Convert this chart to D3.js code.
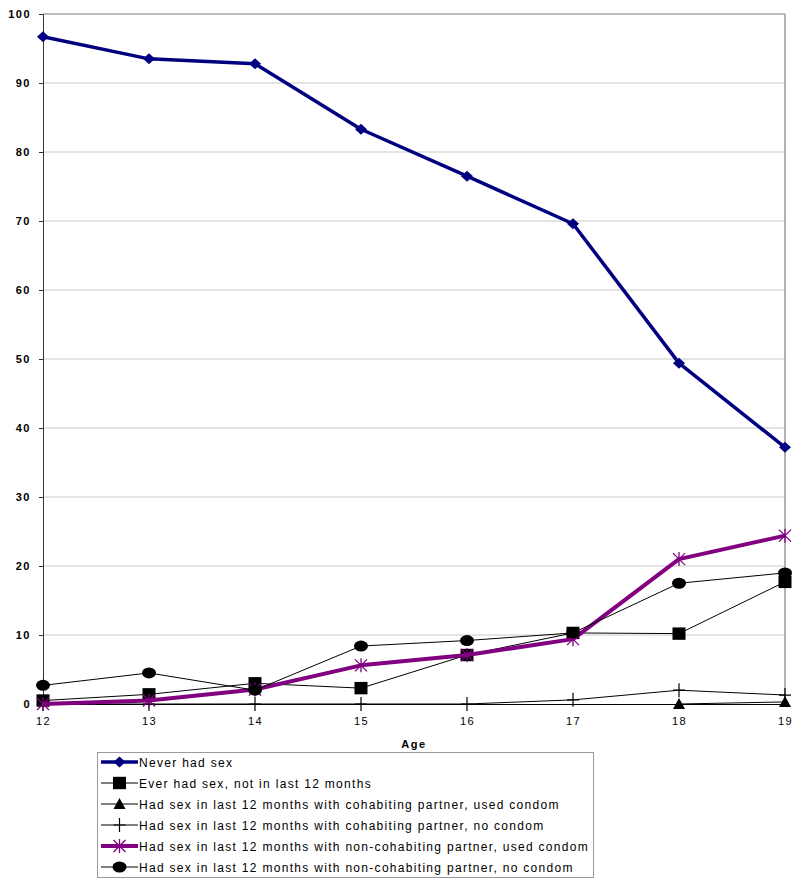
<!DOCTYPE html>
<html><head><meta charset="utf-8">
<script src="https://cdn.jsdelivr.net/npm/d3@7"></script>
<style>body{margin:0;background:#fff}svg{display:block;font-family:"Liberation Sans",Arial,sans-serif}</style>
</head><body><svg id="c" width="800" height="887"></svg>
<script>
const ages = [12,13,14,15,16,17,18,19];
const yTicks = [0,10,20,30,40,50,60,70,80,90,100];
const neverHadSex = [96.7,93.5,92.8,83.3,76.5,69.6,49.4,37.2];
const everNotLast12 = [0.5,1.4,3.0,2.3,7.1,10.3,10.2,17.7];
const cohabCondom = [null,null,null,null,null,null,0,0.3];
const cohabNoCondom = [0,0,0,0,0,0.6,2.0,1.3];
const nonCohabCondom = [0,0.5,2.1,5.6,7.1,9.4,21.0,24.4];
const nonCohabNoCondom = [2.7,4.5,2.0,8.4,9.2,10.3,17.5,19.0];
const seriesNames = ["Never had sex","Ever had sex, not in last 12 months","Had sex in last 12 months with cohabiting partner, used condom","Had sex in last 12 months with cohabiting partner, no condom","Had sex in last 12 months with non-cohabiting partner, used condom","Had sex in last 12 months with non-cohabiting partner, no condom"];
const xLabel = "Age";

const series = [
  {name:seriesNames[0], values:neverHadSex, color:"#000080", width:3.5, marker:"diamond"},
  {name:seriesNames[1], values:everNotLast12, color:"#000", width:1, marker:"square"},
  {name:seriesNames[2], values:cohabCondom, color:"#000", width:1, marker:"triangle"},
  {name:seriesNames[3], values:cohabNoCondom, color:"#000", width:1, marker:"plus"},
  {name:seriesNames[4], values:nonCohabCondom, color:"#800080", width:4, marker:"star"},
  {name:seriesNames[5], values:nonCohabNoCondom, color:"#000", width:1, marker:"circle"}
];

const svg = d3.select("#c");
const L=43, R=785, T=14, B=704;
const x = d3.scaleLinear().domain([12,19]).range([L,R]);
const y = d3.scaleLinear().domain([0,100]).range([B,T]);

// gridlines
svg.append("g").selectAll("line").data(yTicks.filter(d=>d>0&&d<100)).join("line")
  .attr("x1",L).attr("x2",R).attr("y1",d=>y(d)).attr("y2",d=>y(d))
  .attr("stroke","#c8c8c8").attr("stroke-width",1);
// frame top/right
svg.append("line").attr("x1",L).attr("x2",R).attr("y1",y(100)).attr("y2",y(100)).attr("stroke","#aaa").attr("stroke-width",1.5);
svg.append("line").attr("x1",R).attr("x2",R).attr("y1",y(100)).attr("y2",B).attr("stroke","#999").attr("stroke-width",1.5);

// y axis
const ya = svg.append("g").attr("transform",`translate(${L},0)`)
  .call(d3.axisLeft(y).tickValues(yTicks).tickSize(4).tickPadding(8).tickFormat(d3.format("d")));
ya.select(".domain").attr("stroke","#333");
ya.selectAll(".tick line").attr("stroke","#333");
ya.selectAll("text").attr("font-size",11).attr("font-weight","bold").attr("letter-spacing","1.5px").attr("fill","#000")
  .attr("font-family","'Liberation Sans',Arial,sans-serif");

// x axis
const xa = svg.append("g").attr("transform",`translate(0,${B})`)
  .call(d3.axisBottom(x).tickValues(ages).tickSize(0).tickPadding(13).tickFormat(d3.format("d")));
xa.select(".domain").attr("stroke","#000");
xa.selectAll("text").attr("font-size",11).attr("letter-spacing","1.5px").attr("fill","#000")
  .attr("font-family","'Liberation Sans',Arial,sans-serif");

svg.append("text").attr("x",(L+R)/2).attr("y",748).attr("text-anchor","middle")
  .attr("font-size",11).attr("font-weight","bold").attr("letter-spacing","1.5px").text(xLabel);

function drawMarker(g, type, color){
  if(type==="diamond") g.append("path").attr("d","M0,-5.5L6,0L0,5.5L-6,0Z").attr("fill",color);
  else if(type==="square") g.append("rect").attr("x",-6.5).attr("y",-6.2).attr("width",13).attr("height",12.4).attr("fill",color);
  else if(type==="triangle") g.append("path").attr("d","M0,-6L6,5L-6,5Z").attr("fill",color);
  else if(type==="plus") g.append("path").attr("d","M-6,0H6M0,-7V7").attr("stroke",color).attr("stroke-width",1.2);
  else if(type==="star") g.append("path").attr("d","M-6,-6L6,6M-6,6L6,-6M0,-7V7").attr("stroke",color).attr("stroke-width",1.3);
  else if(type==="circle") g.append("ellipse").attr("rx",7).attr("ry",5.5).attr("fill",color);
}

const line = d3.line().defined(d=>d!==null).x((d,i)=>x(ages[i])).y(d=>y(d));
series.forEach(s=>{
  const g = svg.append("g");
  g.append("path").attr("d",line(s.values)).attr("fill","none").attr("stroke",s.color).attr("stroke-width",s.width).attr("stroke-linejoin","round");
  s.values.forEach((v,i)=>{
    if(v===null) return;
    const m = g.append("g").attr("transform",`translate(${x(ages[i])},${y(v)})`);
    drawMarker(m, s.marker, s.color);
  });
});

// legend
const lg = svg.append("g");
lg.append("rect").attr("x",97.5).attr("y",752.5).attr("width",496).attr("height",125).attr("fill","#fff").attr("stroke","#999");
series.forEach((s,i)=>{
  const cy = 762 + i*21;
  lg.append("line").attr("x1",101).attr("x2",138).attr("y1",cy).attr("y2",cy).attr("stroke",s.color).attr("stroke-width",s.width);
  const m = lg.append("g").attr("transform",`translate(119.5,${cy})`);
  drawMarker(m, s.marker, s.color);
  lg.append("text").attr("x",139).attr("y",cy+4.5).attr("font-size",12).attr("letter-spacing","1.3px").text(s.name);
});
</script></body></html>
